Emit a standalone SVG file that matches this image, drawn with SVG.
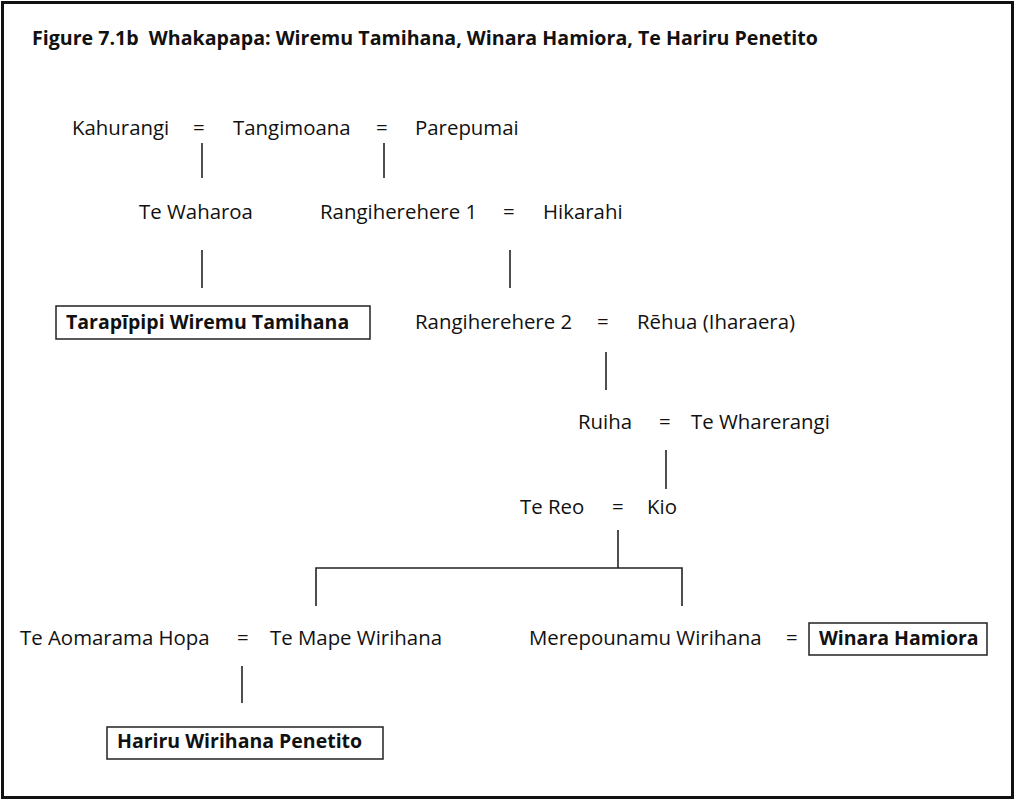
<svg xmlns="http://www.w3.org/2000/svg" width="1018" height="800" viewBox="0 0 1018 800">
<style>
text{font-family:"Open Sans","Liberation Sans",sans-serif;font-size:20.4px;fill:#111}
.b{font-weight:bold;font-size:19.5px}
.t{font-weight:bold;font-size:19.5px;white-space:pre}
.ln{stroke:#222;stroke-width:1.6;fill:none}
.box{stroke:#222;stroke-width:1.5;fill:#fff}
</style>
<rect x="2.5" y="2.5" width="1010" height="795" fill="#fff" stroke="#111" stroke-width="3"/>
<text class="t" x="32" y="45" xml:space="preserve" textLength="786" lengthAdjust="spacingAndGlyphs">Figure 7.1b  Whakapapa: Wiremu Tamihana, Winara Hamiora, Te Hariru Penetito</text>
<g id="connectors">
<line class="ln" x1="202" y1="143" x2="202" y2="178"/>
<line class="ln" x1="384" y1="143" x2="384" y2="178"/>
<line class="ln" x1="202" y1="250" x2="202" y2="288"/>
<line class="ln" x1="510" y1="250" x2="510" y2="288"/>
<line class="ln" x1="606" y1="352" x2="606" y2="390"/>
<line class="ln" x1="666" y1="450" x2="666" y2="489"/>
<line class="ln" x1="618" y1="530" x2="618" y2="568"/>
<polyline class="ln" points="316,606 316,568 682,568 682,606"/>
<line class="ln" x1="242" y1="666" x2="242" y2="703"/>
</g>
<g id="row1">
<text x="72" y="135">Kahurangi</text>
<text x="193" y="135">=</text>
<text x="233" y="135">Tangimoana</text>
<text x="376" y="135">=</text>
<text x="415" y="135">Parepumai</text>
</g>
<g id="row2">
<text x="139" y="219">Te Waharoa</text>
<text x="320" y="219">Rangiherehere 1</text>
<text x="503" y="219">=</text>
<text x="543" y="219">Hikarahi</text>
</g>
<g id="tarapipipi">
<rect class="box" x="56" y="306" width="314" height="33"/>
<text class="b" x="66" y="329">Tarapīpipi Wiremu Tamihana</text>
</g>
<g id="row3">
<text x="415" y="329">Rangiherehere 2</text>
<text x="597" y="329">=</text>
<text x="637" y="329">Rēhua (Iharaera)</text>
</g>
<g id="row4">
<text x="578" y="429">Ruiha</text>
<text x="659" y="429">=</text>
<text x="691" y="429">Te Wharerangi</text>
</g>
<g id="row5">
<text x="520" y="514">Te Reo</text>
<text x="612" y="514">=</text>
<text x="647" y="514">Kio</text>
</g>
<g id="row6">
<text x="20" y="645">Te Aomarama Hopa</text>
<text x="237" y="645">=</text>
<text x="270" y="645">Te Mape Wirihana</text>
<text x="529" y="645">Merepounamu Wirihana</text>
<text x="786" y="645">=</text>
</g>
<g id="winara">
<rect class="box" x="809" y="623" width="178" height="32"/>
<text class="b" x="819" y="645">Winara Hamiora</text>
</g>
<g id="hariru">
<rect class="box" x="107" y="727" width="276" height="32"/>
<text class="b" x="117" y="748">Hariru Wirihana Penetito</text>
</g>
</svg>
